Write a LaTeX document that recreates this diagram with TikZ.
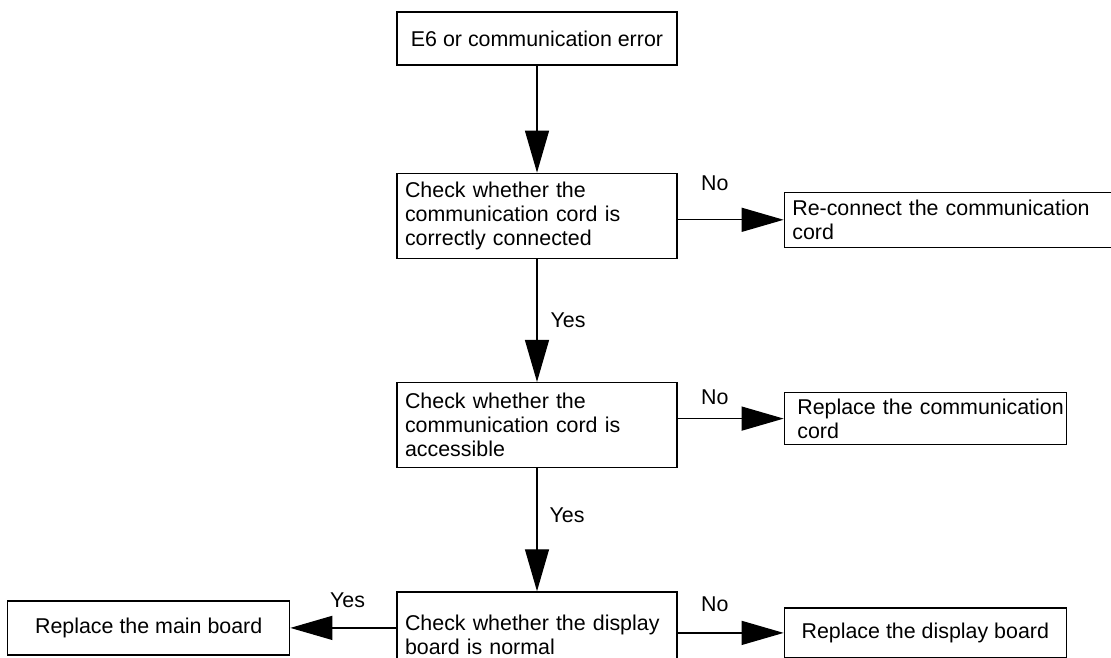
\documentclass[tikz,border=0pt]{standalone}
\usepackage{fontspec}
\setmainfont{Liberation Sans}
\usetikzlibrary{positioning, arrows.meta}

\begin{document}
\begin{tikzpicture}[
  box/.style={draw, line width=1.3pt, inner xsep=8pt, inner ysep=0pt,
              font=\fontsize{21.4}{24}\selectfont},
  chkbox/.style={box, text width=264pt, align=left, minimum height=85pt},
  arr/.style={-{Triangle[length=42pt, width=24pt]}, line width=1.3pt},
  lbl/.style={font=\fontsize{21.4}{24}\selectfont, inner sep=0pt},
  node distance=106pt
]
\useasboundingbox (0,0) rectangle (1111pt,-658pt);

\node[box, minimum width=280pt, minimum height=53pt] (err) at (537pt,-38.5pt) {E6 or communication error};
\node[chkbox, below=107pt of err] (c1) {Check whether the\\communication cord is\\correctly connected};
\node[chkbox, below=123pt of c1] (c2) {Check whether the\\communication cord is\\accessible};
\node[chkbox, below=123pt of c2] (c3) {Check whether the display\\board is normal};

\node[box, text width=311pt, align=left, minimum height=55pt, right=of c1, yshift=-4pt] (f1) {Re-connect the communication\\cord};
\node[box, inner xsep=7pt, text width=268pt, align=left, minimum height=52pt, right=of c2, yshift=6.5pt] (f2) {\hspace*{6pt}\mbox{Replace the communication}\\\hspace*{6pt}cord};
\node[box, minimum width=282pt, minimum height=50pt, right=of c3, yshift=1.5pt] (f3) {Replace the display board};
\node[box, minimum width=282pt, minimum height=54pt, left=of c3, yshift=6.5pt] (mb) {Replace the main board};

\draw[arr] (err) -- (c1);
\draw[arr] (c1) -- node[lbl, pos=0.5, xshift=31pt] {Yes} (c2);
\draw[arr] (c2) -- node[lbl, pos=0.38, xshift=30pt] {Yes} (c3);
\draw[arr] (c1.east |- f1.west) -- node[lbl, pos=0.35, yshift=37pt] {No} (f1.west);
\draw[arr] (c2.east |- f2.west) -- node[lbl, pos=0.35, yshift=21pt] {No} (f2.west);
\draw[arr] (c3.east |- f3.west) -- node[lbl, pos=0.35, yshift=29pt] {No} (f3.west);
\draw[arr] (c3.west |- mb.east) -- node[lbl, pos=0.46, yshift=28pt] {Yes} (mb.east);
\end{tikzpicture}
\end{document}
